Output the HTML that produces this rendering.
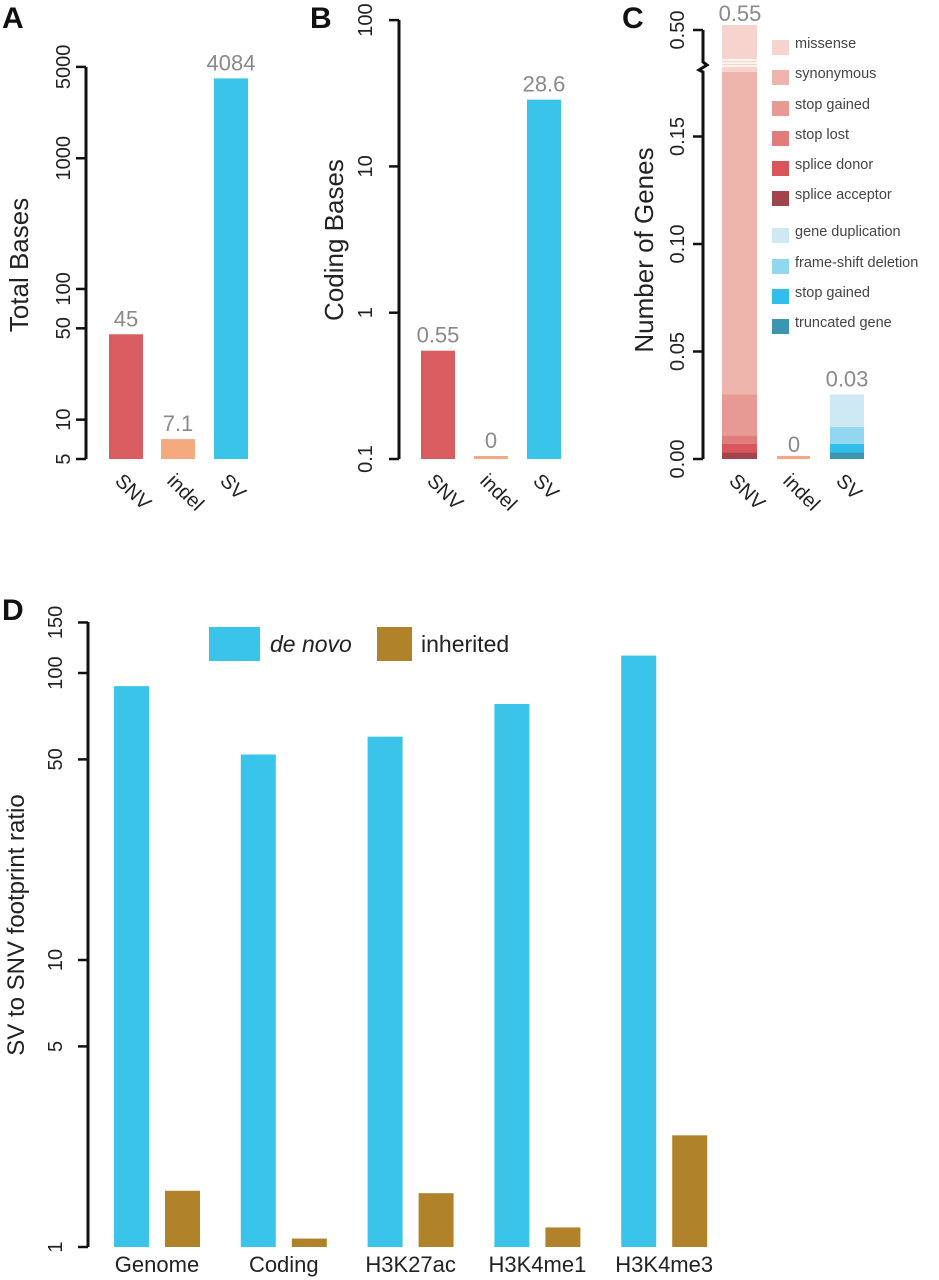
<!DOCTYPE html>
<html><head><meta charset="utf-8">
<style>
html,body{margin:0;padding:0;background:#fff;}
svg{display:block;font-family:"Liberation Sans",sans-serif;}
</style></head>
<body>
<svg id="fig" width="939" height="1280" viewBox="0 0 939 1280" xmlns="http://www.w3.org/2000/svg"></svg>
<script>
// ---- data ----
const typeCats = ["SNV","indel","SV"];
const totalBases = [45, 7.1, 4084];
const totalLabels = ["45","7.1","4084"];
const codingBases = [0.55, 0.1, 28.6];
const codingLabels = ["0.55","0","28.6"];
const typeColors = ["#d95c60","#f4a97f","#3ac4ea"];
const ticksA = [5,10,50,100,1000,5000];
const ticksB = [0.1,1,10,100];
const ticksC = [0,0.05,0.10,0.15,0.50];
const ticksCLabels = ["0.00","0.05","0.10","0.15","0.50"];
const snvSegNames = ["splice acceptor","splice donor","stop lost","stop gained","synonymous","missense"];
const snvSegVals = [0.003,0.004,0.004,0.019,0.15,0.37];
const snvSegColors = ["#a3434b","#d9555a","#e07d7a","#e79a94","#eeb5ad","#f6d3cc"];
const svSegNames = ["truncated gene","stop gained","frame-shift deletion","gene duplication"];
const svSegVals = [0.003,0.004,0.008,0.015];
const svSegColors = ["#3b96b0","#30bfea","#92d7f0","#cfe9f4"];
const indelGenes = 0.0005;
const geneLabels = ["0.55","0","0.03"];
const regionCats = ["Genome","Coding","H3K27ac","H3K4me1","H3K4me3"];
const deNovo = [90, 52, 60, 78, 115];
const inherited = [1.57, 1.07, 1.54, 1.17, 2.45];
const ticksD = [1,5,10,50,100,150];

const NS="http://www.w3.org/2000/svg";
const svg=document.getElementById('fig');
function el(tag,attrs,parent,text){const e=document.createElementNS(NS,tag);for(const k in attrs)e.setAttribute(k,attrs[k]);if(text!==undefined)e.textContent=text;(parent||svg).appendChild(e);return e;}
function grp(name){const g=el('g',{});return g;}

function panelLetter(t,x,y){const e=el('text',{x:x,y:y,'font-size':30,'font-weight':'bold',fill:'#111'},svg,t);

}
function yTitle(t,x,cy,g,size){const e=el('text',{x:x,y:cy,'font-size':size||26,fill:'#222','text-anchor':'middle',transform:`rotate(-90 ${x} ${cy})`},g,t);

}
function vAxis(g,x,y0,y1,ticks,labels,yf,lx){
  const a=el('line',{x1:x,y1:y0,x2:x,y2:y1,stroke:'#111','stroke-width':3},g);
  
  
  ticks.forEach((t,i)=>{const y=yf(t);
    const tk=el('line',{x1:x-10,y1:y,x2:x,y2:y,stroke:'#111','stroke-width':2.5},g);
    
    
    const tl=el('text',{x:lx,y:y,'font-size':20,fill:'#222','text-anchor':'middle',transform:`rotate(-90 ${lx} ${y})`},g,labels[i]);
    
    });
}
function xRotLabel(g,t,cx,y){const e=el('text',{x:cx-12,y:y,'font-size':20,fill:'#222',transform:`rotate(45 ${cx-12} ${y})`},g,t);

}
function valLabel(g,t,cx,y){const e=el('text',{x:cx,y:y,'font-size':22,fill:'#8a8a8a','text-anchor':'middle'},g,t);

}
function bar(g,x,w,yTop,yBot,color,name){const r=el('rect',{x:x,y:yTop,width:w,height:Math.max(yBot-yTop,2),fill:color},g);

return r;}

// ---- Panel A ----
panelLetter('A',2,28);
{const g=grp('panel-a-total-bases');
 const yA=v=>459-(Math.log10(v)-Math.log10(5))*130.7;
 yTitle('Total Bases',28,265,g);
 vAxis(g,86,67,459,ticksA,ticksA.map(String),yA,70);
 const bx=[109,161,214];
 typeCats.forEach((c,i)=>{bar(g,bx[i],34,yA(totalBases[i]),459,typeColors[i],'bar-'+c.toLowerCase());
   valLabel(g,totalLabels[i],bx[i]+17,yA(totalBases[i])-8);
   xRotLabel(g,c,bx[i]+17,482);});
}
// ---- Panel B ----
panelLetter('B',310,28);
{const g=grp('panel-b-coding-bases');
 const yB=v=>459-(Math.log10(v)+1)*146.3;
 yTitle('Coding Bases',343,240,g);
 vAxis(g,399,20,459,ticksB,ticksB.map(String),yB,372);
 const bx=[421,474,527];
 typeCats.forEach((c,i)=>{const top=codingLabels[i]==="0"?456:yB(codingBases[i]);
   bar(g,bx[i],34,top,459,typeColors[i],'bar-'+c.toLowerCase());
   valLabel(g,codingLabels[i],bx[i]+17,top-8);
   xRotLabel(g,c,bx[i]+17,482);});
}
// ---- Panel C ----
panelLetter('C',622,28);
{const g=grp('panel-c-number-of-genes');
 const yC=v=> v<=0.18 ? 459-v*2150 : 58-(v-0.18)/(0.55-0.18)*33;
 yTitle('Number of Genes',653,250,g);
 const ax=703;
 const p=el('path',{d:`M${ax} 30 L${ax} 62 L${ax+4} 65 L${ax-4} 70 L${ax} 72 L${ax} 459`,fill:'none',stroke:'#111','stroke-width':3},g);
 
 
 ticksC.forEach((t,i)=>{const y=t===0.5?30:yC(t);
   const tk=el('line',{x1:ax-10,y1:y,x2:ax,y2:y,stroke:'#111','stroke-width':2.5},g);
   
   
   const lx=684;
   const tl=el('text',{x:lx,y:y,'font-size':20,fill:'#222','text-anchor':'middle',transform:`rotate(-90 ${lx} ${y})`},g,ticksCLabels[i]);
   
   });
 let cum=0;
 snvSegVals.forEach((v,i)=>{const y0=yC(cum),y1=yC(cum+v);cum+=v;
   bar(g,722,35,y1,y0,snvSegColors[i],'bar-snv-'+snvSegNames[i].replace(/ /g,'-'));});
 [60,63,66].forEach(y=>{const l=el('line',{x1:722,y1:y,x2:757,y2:y,stroke:'#fff','stroke-width':1.5},g);
   
   });
 valLabel(g,geneLabels[0],740,yC(cum)-4);
 bar(g,777,33,yC(indelGenes)-2,459,typeColors[1],'bar-indel');
 valLabel(g,geneLabels[1],794,452);
 cum=0;
 svSegVals.forEach((v,i)=>{const y0=yC(cum),y1=yC(cum+v);cum+=v;
   bar(g,830,34,y1,y0,svSegColors[i],'bar-sv-'+svSegNames[i].replace(/ /g,'-'));});
 valLabel(g,geneLabels[2],847,yC(cum)-8);
 typeCats.forEach((c,i)=>xRotLabel(g,c,[740,794,847][i],482));
 const lg=grp('legend-panel-c');
 const legNames=snvSegNames.slice().reverse().concat(svSegNames.slice().reverse());
 const legCols=snvSegColors.slice().reverse().concat(svSegColors.slice().reverse());
 const legY=[36,66,97,127,157,187,224,255,285,315];
 legNames.forEach((n,i)=>{const e=el('g',{},lg);
   
   
   el('rect',{x:772,y:legY[i]+4,width:17,height:15,fill:legCols[i]},e);
   el('text',{x:795,y:legY[i]+12,'font-size':14.5,fill:'#444'},e,n);});
}
// ---- Panel D ----
panelLetter('D',2,620);
{const g=grp('panel-d-footprint-ratio');
 const yD=v=>1247-Math.log10(v)*287;
 yTitle('SV to SNV footprint ratio',24,925,g,24);
 vAxis(g,88,622,1247,ticksD,ticksD.map(String),yD,62);
 regionCats.forEach((c,i)=>{const x=114+i*126.8;
   bar(g,x,35,yD(deNovo[i]),1247,'#3ac4ea','bar-de-novo-'+c.toLowerCase());
   bar(g,x+51,35,yD(inherited[i]),1247,'#b0832a','bar-inherited-'+c.toLowerCase());
   const t=el('text',{x:x+43,y:1272,'font-size':22,fill:'#222','text-anchor':'middle'},g,c);
   
   });
 const l1=el('g',{},g);
 
 
 el('rect',{x:209,y:627,width:51,height:34,fill:'#3ac4ea'},l1);
 el('text',{x:270,y:652,'font-size':23,'font-style':'italic',fill:'#222'},l1,'de novo');
 const l2=el('g',{},g);
 
 
 el('rect',{x:377,y:627,width:35,height:34,fill:'#b0832a'},l2);
 el('text',{x:421,y:652,'font-size':23,fill:'#222'},l2,'inherited');
}
</script>
</body></html>
